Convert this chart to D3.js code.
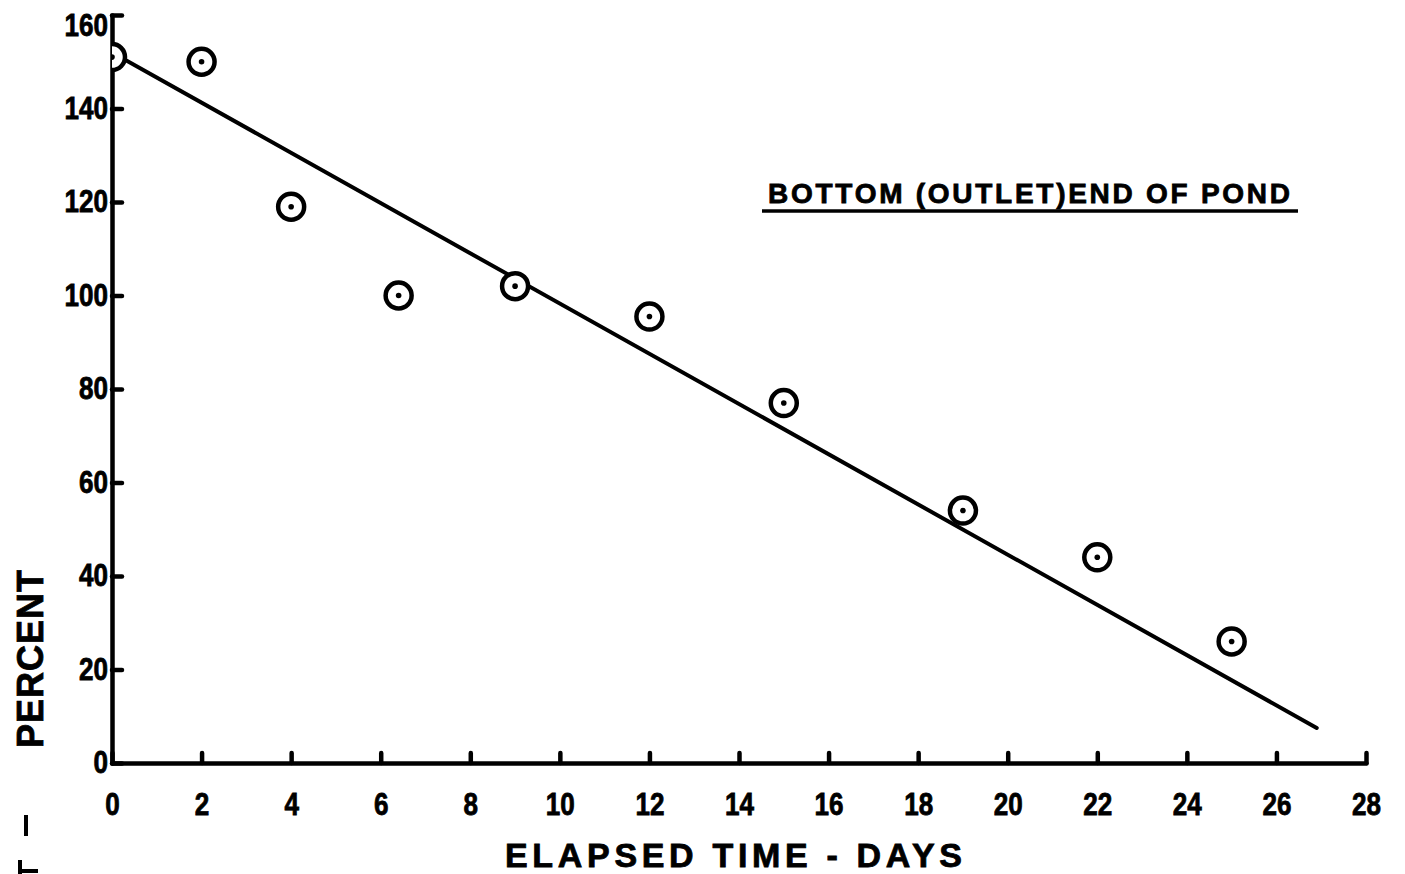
<!DOCTYPE html>
<html>
<head>
<meta charset="utf-8">
<style>
body { margin: 0; background: #fff; }
svg { display: block; }
.axis path, .axis line { stroke: #000; stroke-width: 4.5; stroke-linecap: round; }
.axis text {
  font-family: "Liberation Sans", Arial, sans-serif;
  font-weight: bold;
  font-size: 31px;
  fill: #000;
  stroke: #000;
  stroke-width: 0.8px;
}
.lbl {
  font-family: "Liberation Sans", Arial, sans-serif;
  font-weight: bold;
  fill: #000;
  stroke: #000;
  stroke-width: 0.8px;
}
</style>
</head>
<body>
<svg id="chart" width="1405" height="874"></svg>
<script src="https://cdn.jsdelivr.net/npm/d3@7"></script>
<script>
var days = [0, 2, 4, 6.4, 9, 12, 15, 19, 22, 25];
var percent = [151, 150, 119, 100, 102, 95.5, 77, 54, 44, 26];
// fitted line, end points
var fitDays = [0, 26.9];
var fitPercent = [152, 7.5];
var xTicks = [0, 2, 4, 6, 8, 10, 12, 14, 16, 18, 20, 22, 24, 26, 28];
var yTicks = [0, 20, 40, 60, 80, 100, 120, 140, 160];

var svg = d3.select("#chart");

var x = d3.scaleLinear().domain([0, 28]).range([112, 1366]);
var y = d3.scaleLinear().domain([0, 160]).range([763, 15]);

// hand lettered digits are narrow, squeeze them a bit
function squeeze(sel) {
  sel.selectAll("text")
    .attr("textLength", function(d) { return String(d).length * 14.5; })
    .attr("lengthAdjust", "spacingAndGlyphs");
}

// x axis, ticks pointing up
svg.append("g")
  .attr("class", "axis")
  .attr("transform", "translate(0," + y(0) + ")")
  .call(d3.axisBottom(x).tickValues(xTicks).tickSizeInner(-10).tickSizeOuter(0).tickPadding(30))
  .call(function(g) { g.selectAll("text").attr("dy", "0.71em"); })
  .call(squeeze);

// y axis, ticks pointing right
svg.append("g")
  .attr("class", "axis")
  .attr("transform", "translate(" + x(0) + ",0)")
  .call(d3.axisLeft(y).tickValues(yTicks).tickSizeInner(-10).tickSizeOuter(0).tickPadding(4))
  .call(squeeze)
  .call(function(g) {
    // top label sits under the axis end
    g.selectAll("text").filter(function(d) { return d === 160; }).attr("dy", "0.65em");
  });

// clip so the circle at day 0 only shows right of the axis
svg.append("clipPath").attr("id", "plotclip")
  .append("rect")
  .attr("x", x(0)).attr("y", 0)
  .attr("width", 1405 - x(0)).attr("height", y(0));

var plot = svg.append("g").attr("clip-path", "url(#plotclip)");

var line = d3.line()
  .x(function(d) { return x(d[0]); })
  .y(function(d) { return y(d[1]); });

plot.append("path")
  .datum(d3.zip(fitDays, fitPercent))
  .attr("d", line)
  .attr("fill", "none")
  .attr("stroke", "#000")
  .attr("stroke-width", 4)
  .attr("stroke-linecap", "round");

var pts = plot.selectAll(".pt")
  .data(d3.zip(days, percent))
  .enter().append("g")
  .attr("class", "pt")
  .attr("transform", function(d) { return "translate(" + x(d[0]) + "," + y(d[1]) + ")"; });

pts.append("circle")
  .attr("r", 13)
  .attr("fill", "#fff")
  .attr("stroke", "#000")
  .attr("stroke-width", 4.5);

pts.append("circle")
  .attr("r", 2.8)
  .attr("fill", "#000");

// annotation
svg.append("text")
  .attr("class", "lbl")
  .attr("x", 768)
  .attr("y", 203)
  .attr("font-size", 28)
  .attr("textLength", 522)
  .attr("lengthAdjust", "spacing")
  .text("BOTTOM (OUTLET)END OF POND");

svg.append("line")
  .attr("x1", 762).attr("x2", 1298)
  .attr("y1", 211).attr("y2", 211)
  .attr("stroke", "#000")
  .attr("stroke-width", 3.5);

// axis titles
svg.append("text")
  .attr("class", "lbl")
  .attr("x", 505)
  .attr("y", 867)
  .attr("font-size", 34)
  .attr("textLength", 457)
  .attr("lengthAdjust", "spacing")
  .text("ELAPSED TIME - DAYS");

svg.append("text")
  .attr("class", "lbl")
  .attr("transform", "translate(43,748) rotate(-90)")
  .attr("font-size", 36)
  .attr("textLength", 178)
  .attr("lengthAdjust", "spacing")
  .text("PERCENT");

// stray marks at the bottom left of the scan
svg.append("path")
  .attr("d", "M26,815 L26,836 M20,860 L20,874 M20,871 L38,871")
  .attr("stroke", "#000")
  .attr("stroke-width", 4)
  .attr("fill", "none");
</script>
</body>
</html>
